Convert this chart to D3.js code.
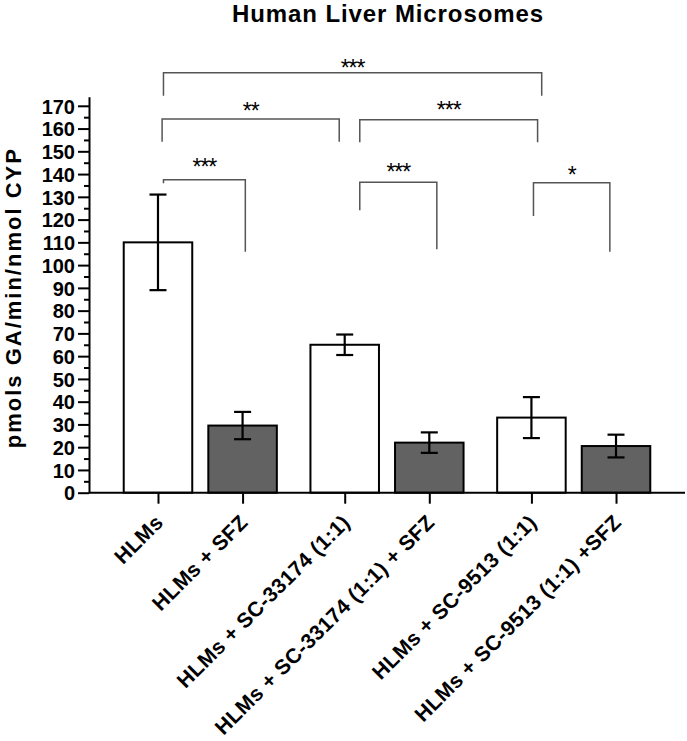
<!DOCTYPE html>
<html>
<head>
<meta charset="utf-8">
<script src="https://cdn.jsdelivr.net/npm/d3@7"></script>
<style>
  body { margin: 0; background: #fff; }
  svg text { font-family: 'Liberation Sans', Arial, sans-serif; }
</style>
</head>
<body>
<div id="chart"></div>
<script>
const categories = [
  'HLMs',
  'HLMs + SFZ',
  'HLMs + SC-33174 (1:1)',
  'HLMs + SC-33174 (1:1) + SFZ',
  'HLMs + SC-9513 (1:1)',
  'HLMs + SC-9513 (1:1) +SFZ'
];
const groups = ['HLMs', 'SC-33174', 'SC-9513'];
const means = [110, 29.5, 65, 22, 33, 20.5];
const errors = [21, 6, 4.5, 4.5, 9, 5];
const yTicks = d3.range(0, 171, 10);
const yMinorTicks = d3.range(5, 170, 10);

// significance brackets: ends are bar index (+/- fraction of a bar width), heights in y units
const brackets = [
  { from: 0.08, to: 4.15, top: 184.5, leftEnd: 174.4, rightEnd: 174.4, label: '***', labelY: 189 },
  { from: 0.06, to: 1.92, top: 164.2, leftEnd: 154.2, rightEnd: 154.2, label: '**', labelY: 170 },
  { from: 2.22, to: 4.09, top: 163.9, leftEnd: 154, rightEnd: 154, label: '***', labelY: 170.3 },
  { from: 0.08, to: 1.04, top: 137.5, leftEnd: 136, rightEnd: 105.9, label: '***', labelY: 145.4 },
  { from: 2.22, to: 3.11, top: 136.4, leftEnd: 124.1, rightEnd: 107, label: '***', labelY: 143 },
  { from: 4.03, to: 4.91, top: 136.2, leftEnd: 121.6, rightEnd: 105.9, label: '*', labelY: 141.8 }
];

const width = 687;
const height = 741;
const plotLeft = 89;
const plotRight = 685;
const plotBottom = 492.7;
const plotTop = 96.7;

const svg = d3
  .select('#chart')
  .append('svg')
  .attr('width', width)
  .attr('height', height)
  .style('background', '#fff');

/* Scales
=========================================================================*/
const y = d3.scaleLinear().domain([0, 174]).range([plotBottom, plotTop]);

const x0 = d3.scaleBand().domain(groups).range([plotLeft, plotRight]).paddingInner(0.18).paddingOuter(0.186);
const x1 = d3.scaleBand().domain([0, 1]).range([0, x0.bandwidth()]).paddingInner(0.19).paddingOuter(0);
const barWidth = x1.bandwidth();
const barX = (i) => x0(groups[Math.floor(i / 2)]) + x1(i % 2);
const center = (i) => barX(i) + barWidth / 2;
const posX = (p) => {
  const i = Math.round(p);
  return center(i) + (p - i) * barWidth;
};

/* Titles
=========================================================================*/
svg
  .append('text')
  .attr('x', 388)
  .attr('y', 22)
  .attr('text-anchor', 'middle')
  .attr('font-size', 24)
  .attr('font-weight', 'bold')
  .attr('letter-spacing', 0.9)
  .text('Human Liver Microsomes');

svg
  .append('text')
  .attr('transform', `translate(21, ${(plotTop + plotBottom) / 2 + 3}) rotate(-90)`)
  .attr('text-anchor', 'middle')
  .attr('font-size', 22)
  .attr('font-weight', 'bold')
  .attr('letter-spacing', 2)
  .text('pmols GA/min/nmol CYP');

/* Y Axis
=========================================================================*/
const yAxis = svg
  .append('g')
  .attr('transform', `translate(${plotLeft}, 0)`)
  .call(d3.axisLeft(y).tickValues(yTicks).tickSize(11).tickSizeOuter(0).tickPadding(3));

yAxis.selectAll('text').attr('font-size', 20).attr('font-weight', 'bold').attr('fill', '#000').attr('dy', '0.36em');

const yMinor = svg
  .append('g')
  .attr('transform', `translate(${plotLeft}, 0)`)
  .call(d3.axisLeft(y).tickValues(yMinorTicks).tickSize(5).tickFormat(''));
yMinor.select('.domain').remove();

svg.selectAll('.tick line, .domain').attr('stroke', '#000').attr('stroke-width', 2);

/* Bars
=========================================================================*/
svg
  .append('g')
  .selectAll('rect')
  .data(means)
  .join('rect')
  .attr('x', (d, i) => barX(i))
  .attr('y', (d) => y(d))
  .attr('width', barWidth)
  .attr('height', (d) => y(0) - y(d))
  .attr('fill', (d, i) => (i % 2 ? '#626262' : '#fff'))
  .attr('stroke', '#000')
  .attr('stroke-width', 2);

/* Error bars
=========================================================================*/
const err = svg.append('g').attr('stroke', '#000').attr('stroke-width', 2.2);
means.forEach((m, i) => {
  const cx = center(i);
  const lo = y(m - errors[i]);
  const hi = y(m + errors[i]);
  err.append('line').attr('x1', cx).attr('x2', cx).attr('y1', lo).attr('y2', hi);
  err.append('line').attr('x1', cx - 8.5).attr('x2', cx + 8.5).attr('y1', lo).attr('y2', lo);
  err.append('line').attr('x1', cx - 8.5).attr('x2', cx + 8.5).attr('y1', hi).attr('y2', hi);
});

/* X Axis
=========================================================================*/
const xPoint = d3.scaleOrdinal().domain(categories).range(categories.map((c, i) => center(i)));

const xAxis = svg
  .append('g')
  .attr('transform', `translate(0, ${plotBottom})`)
  .call(d3.axisBottom(xPoint).tickSize(11).tickSizeOuter(0));

xAxis.select('.domain').remove();
xAxis
  .append('line')
  .attr('x1', plotLeft)
  .attr('x2', plotRight)
  .attr('y1', 0)
  .attr('y2', 0)
  .attr('stroke', '#000')
  .attr('stroke-width', 2);
xAxis.selectAll('.tick line').attr('stroke', '#000').attr('stroke-width', 2);
xAxis
  .selectAll('.tick text')
  .attr('x', null)
  .attr('y', null)
  .attr('dy', null)
  .attr('transform', 'translate(6, 31) rotate(-45)')
  .attr('text-anchor', 'end')
  .attr('font-size', 21)
  .attr('font-weight', 'bold')
  .attr('letter-spacing', 0.4)
  .attr('fill', '#000');

/* Brackets
=========================================================================*/
const br = svg.append('g');
brackets.forEach((b) => {
  const xa = posX(b.from);
  const xb = posX(b.to);
  br.append('path')
    .attr('d', `M${xa},${y(b.leftEnd)}V${y(b.top)}H${xb}V${y(b.rightEnd)}`)
    .attr('fill', 'none')
    .attr('stroke', '#555')
    .attr('stroke-width', 1.5);
  br.append('text')
    .attr('x', (xa + xb) / 2)
    .attr('y', y(b.labelY) + 13)
    .attr('text-anchor', 'middle')
    .attr('font-size', 23)
    .attr('letter-spacing', -1)
    .text(b.label);
});
</script>
</body>
</html>
